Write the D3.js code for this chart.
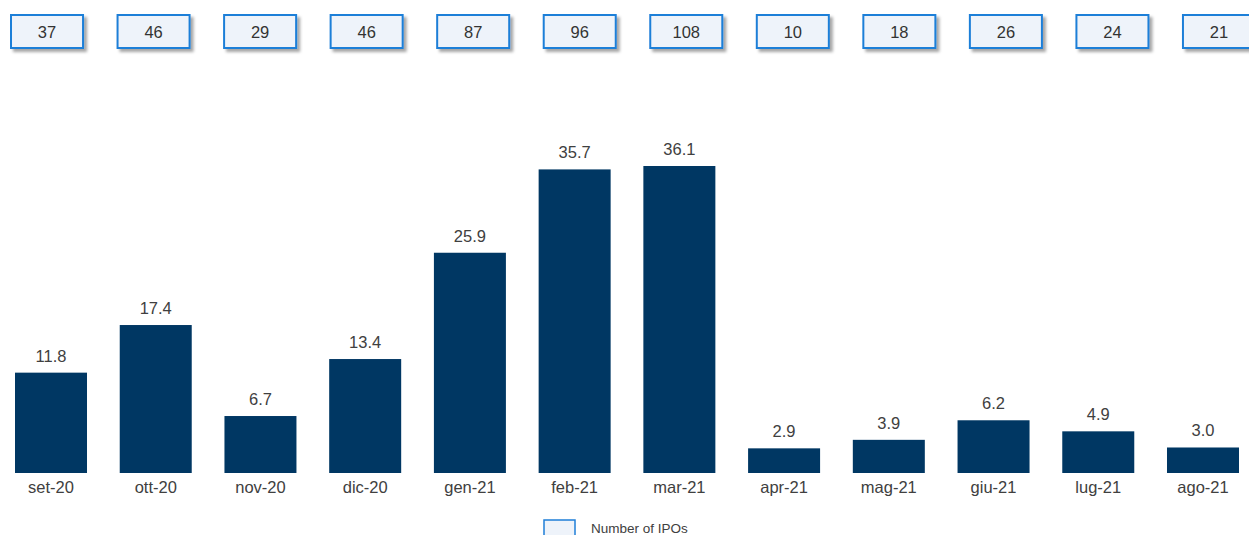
<!DOCTYPE html>
<html><head><meta charset="utf-8">
<script src="https://cdn.jsdelivr.net/npm/d3@7"></script>
<style>body{margin:0;background:#fff;} svg{display:block;}</style>
</head><body>
<svg id="c" width="1249" height="535"></svg>
<script>
const categories = ["set-20","ott-20","nov-20","dic-20","gen-21","feb-21","mar-21","apr-21","mag-21","giu-21","lug-21","ago-21"];
const values = [11.8,17.4,6.7,13.4,25.9,35.7,36.1,2.9,3.9,6.2,4.9,3.0];
const ipoCounts = [37,46,29,46,87,96,108,10,18,26,24,21];
const legendLabel = "Number of IPOs";

const svg = d3.select("#c");
const font = "Liberation Sans, Arial, sans-serif";

const defs = svg.append("defs");
const f = defs.append("filter").attr("id","sh").attr("x","-20%").attr("y","-20%").attr("width","150%").attr("height","160%");
f.append("feDropShadow").attr("dx",3).attr("dy",3).attr("stdDeviation",1.5).attr("flood-color","#000").attr("flood-opacity",0.35);

const xb = d3.scaleBand().domain(categories).range([15 - 16.36, 1239 + 16.36]).paddingInner(32.73/104.73).paddingOuter(0.5*32.73/104.73);
const y = d3.scaleLinear().domain([0, 36.1]).range([473, 166]);

svg.append("g").selectAll("rect").data(values).join("rect")
  .attr("x",(d,i)=>xb(categories[i])).attr("width",xb.bandwidth())
  .attr("y",d=>y(d)).attr("height",d=>y(0)-y(d))
  .attr("fill","#003763");

svg.append("g").selectAll("text").data(values).join("text")
  .attr("x",(d,i)=>xb(categories[i])+xb.bandwidth()/2)
  .attr("y",d=>y(d)-11)
  .attr("text-anchor","middle").attr("font-family",font).attr("font-size",16.5).attr("fill","#404040")
  .text(d=>d.toFixed(1));

const xAxis = d3.axisBottom(xb).tickSize(0).tickPadding(8);
const ga = svg.append("g").attr("transform","translate(0,473)").call(xAxis);
ga.select(".domain").remove();
ga.selectAll("text").attr("font-family",font).attr("font-size",16.5).attr("fill","#404040");

const xt = d3.scaleBand().domain(categories).range([47-53.25, 1219+53.25]).paddingInner(34.5/106.5).paddingOuter(0.5*34.5/106.5);
const gb = svg.append("g");
gb.selectAll("rect").data(ipoCounts).join("rect")
  .attr("x",(d,i)=>xt(categories[i])).attr("width",xt.bandwidth())
  .attr("y",15).attr("height",33)
  .attr("fill","#eef3fa").attr("stroke","#1f7fd8").attr("stroke-width",2)
  .attr("filter","url(#sh)");
gb.selectAll("text").data(ipoCounts).join("text")
  .attr("x",(d,i)=>xt(categories[i])+xt.bandwidth()/2)
  .attr("y",37.5).attr("text-anchor","middle")
  .attr("font-family",font).attr("font-size",16.5).attr("fill","#333")
  .text(d=>d);

const lg = svg.append("g");
lg.append("rect").attr("x",544).attr("y",520).attr("width",31).attr("height",24)
  .attr("fill","#eef3fa").attr("stroke","#1f7fd8").attr("stroke-width",1.5);
lg.append("text").attr("x",591).attr("y",533).attr("font-family",font).attr("font-size",13.5).attr("fill","#404040").text(legendLabel);
</script>
</body></html>
